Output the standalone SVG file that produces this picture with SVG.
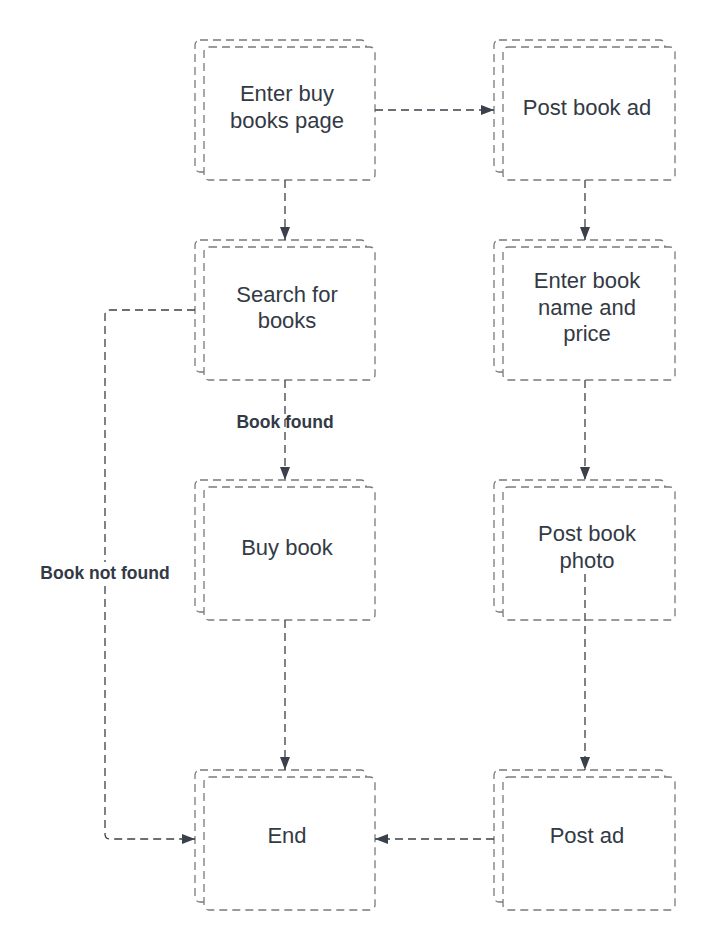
<svg xmlns="http://www.w3.org/2000/svg" width="715" height="950" viewBox="0 0 715 950">
<style>
.bk{fill:#fff;stroke:#7a7a7a;stroke-width:1.3;stroke-dasharray:8,5}
.fr{fill:#fff;stroke:#7a7a7a;stroke-width:1.3;stroke-dasharray:8,5}
.t{font-family:"Liberation Sans",Arial,sans-serif;font-size:22px;fill:#333a45;text-anchor:middle}
.lb{font-family:"Liberation Sans",Arial,sans-serif;font-size:17.5px;font-weight:bold;fill:#333a45;text-anchor:middle}
.c{fill:none;stroke:#3a414a;stroke-width:1.3;stroke-dasharray:8,5}
</style>
<defs>
<marker id="ah" markerWidth="14" markerHeight="12" refX="13" refY="6" orient="auto" markerUnits="userSpaceOnUse">
<path d="M0,1 L13,6 L0,11 Z" fill="#3a414a"/>
</marker>
</defs>
<rect width="715" height="950" fill="#fff"/>
<g id="n1"><rect class="bk" x="195" y="40" width="171" height="132" rx="5"/><rect class="fr" x="204" y="47" width="171" height="133" rx="5"/><text class="t" x="287" y="101">Enter buy</text><text class="t" x="287" y="128">books page</text></g>
<g id="n2"><rect class="bk" x="494" y="40" width="171" height="132" rx="5"/><rect class="fr" x="503" y="47" width="172" height="133" rx="5"/><text class="t" x="587" y="115">Post book ad</text></g>
<g id="n3"><rect class="bk" x="195" y="240" width="171" height="132" rx="5"/><rect class="fr" x="204" y="247" width="171" height="133" rx="5"/><text class="t" x="287" y="302">Search for</text><text class="t" x="287" y="328">books</text></g>
<g id="n4"><rect class="bk" x="494" y="240" width="171" height="132" rx="5"/><rect class="fr" x="503" y="247" width="172" height="133" rx="5"/><text class="t" x="587" y="288">Enter book</text><text class="t" x="587" y="315">name and</text><text class="t" x="587" y="341">price</text></g>
<g id="n5"><rect class="bk" x="195" y="480" width="171" height="132" rx="5"/><rect class="fr" x="204" y="487" width="171" height="133" rx="5"/><text class="t" x="287" y="555">Buy book</text></g>
<g id="n6"><rect class="bk" x="494" y="480" width="171" height="132" rx="5"/><rect class="fr" x="503" y="487" width="172" height="133" rx="5"/><text class="t" x="587" y="541">Post book</text><text class="t" x="587" y="568">photo</text></g>
<g id="n7"><rect class="bk" x="195" y="770" width="171" height="132" rx="5"/><rect class="fr" x="204" y="777" width="171" height="133" rx="5"/><text class="t" x="287" y="843">End</text></g>
<g id="n8"><rect class="bk" x="494" y="770" width="171" height="132" rx="5"/><rect class="fr" x="503" y="777" width="172" height="133" rx="5"/><text class="t" x="587" y="843">Post ad</text></g>
<g id="connectors">
<path class="c" d="M375,110 L494,110" marker-end="url(#ah)"/>
<path class="c" d="M285,180 L285,240" marker-end="url(#ah)"/>
<path class="c" d="M585,180 L585,240" marker-end="url(#ah)"/>
<path class="c" d="M285,380 L285,480" marker-end="url(#ah)"/>
<path class="c" d="M585,380 L585,480" marker-end="url(#ah)"/>
<path class="c" d="M585,574 L585,770" marker-end="url(#ah)"/>
<path class="c" d="M285,620 L285,770" marker-end="url(#ah)"/>
<path class="c" d="M494,839 L375,839" marker-end="url(#ah)"/>
<path class="c" d="M195,310 L110,310 Q105,310 105,315 L105,834 Q105,839 110,839 L195,839" marker-end="url(#ah)"/>
<text class="lb" x="285" y="428">Book found</text>
<rect x="36" y="562" width="138" height="22" fill="#fff"/>
<text class="lb" x="105" y="579">Book not found</text>
</g>
</svg>
